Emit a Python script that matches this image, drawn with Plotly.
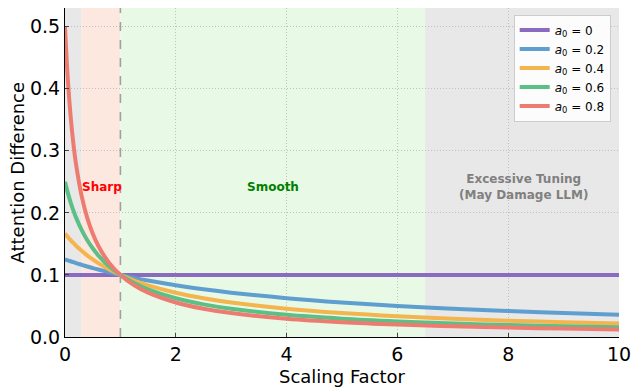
import plotly.graph_objects as go

scaling = [0, 0.05, 0.1, 0.15, 0.2, 0.3, 0.4, 0.5, 0.6, 0.8, 1.0, 1.25, 1.5, 2, 2.5, 3, 4, 5, 6, 7, 8, 9, 10]

diff_a00 = [0.1] * len(scaling)
diff_a02 = [0.125, 0.1235, 0.122, 0.1205, 0.119, 0.1163, 0.1136, 0.1111, 0.1087, 0.1042, 0.1, 0.0952, 0.0909, 0.0833, 0.0769, 0.0714, 0.0625, 0.0556, 0.05, 0.0455, 0.0417, 0.0385, 0.0357]
diff_a04 = [0.1667, 0.1613, 0.1562, 0.1515, 0.1471, 0.1389, 0.1316, 0.125, 0.119, 0.1087, 0.1, 0.0909, 0.0833, 0.0714, 0.0625, 0.0556, 0.0455, 0.0385, 0.0333, 0.0294, 0.0263, 0.0238, 0.0217]
diff_a06 = [0.25, 0.2326, 0.2174, 0.2041, 0.1923, 0.1724, 0.1562, 0.1429, 0.1316, 0.1136, 0.1, 0.087, 0.0769, 0.0625, 0.0526, 0.0455, 0.0357, 0.0294, 0.025, 0.0217, 0.0192, 0.0172, 0.0156]
diff_a08 = [0.5, 0.4167, 0.3571, 0.3125, 0.2778, 0.2273, 0.1923, 0.1667, 0.1471, 0.119, 0.1, 0.0833, 0.0714, 0.0556, 0.0455, 0.0385, 0.0294, 0.0238, 0.02, 0.0172, 0.0152, 0.0135, 0.0122]

series_labels = ["0", "0.2", "0.4", "0.6", "0.8"]
series_values = [diff_a00, diff_a02, diff_a04, diff_a06, diff_a08]
series_colors = ["#8a6bbf", "#5e9fcf", "#f5b54e", "#5cbf86", "#ee7b70"]

regions = [(0, 0.3, "#e8e8e8"), (0.3, 1.0, "#fde8e0"), (1.0, 6.5, "#e8fae6"), (6.5, 10, "#e8e8e8")]
x_ticks = [0, 2, 4, 6, 8, 10]
y_ticks = [0.0, 0.1, 0.2, 0.3, 0.4, 0.5]

FONT = "DejaVu Sans"
fig = go.Figure()

for lab, vals, col in zip(series_labels, series_values, series_colors):
    fig.add_trace(go.Scatter(
        x=scaling, y=vals, mode="lines", line=dict(color=col, width=4, shape="spline"),
        name=f"<i>a</i><sub>0</sub> = {lab}"))

for x0, x1, c in regions:
    fig.add_shape(type="rect", xref="x", yref="paper", x0=x0, x1=x1, y0=0, y1=1,
                  fillcolor=c, line_width=0, layer="below")

fig.add_shape(type="line", xref="x", yref="paper", x0=1, x1=1, y0=0, y1=1,
              line=dict(color="#a0a0a0", width=1.6, dash="dash"), layer="above")

fig.add_annotation(x=0.66, y=0.242, text="<b>Sharp</b>", showarrow=False,
                   font=dict(family=FONT, size=12, color="#ff0000"))
fig.add_annotation(x=3.75, y=0.242, text="<b>Smooth</b>", showarrow=False,
                   font=dict(family=FONT, size=12, color="#008000"))
fig.add_annotation(x=8.27, y=0.242, text="<b>Excessive Tuning<br>(May Damage LLM)</b>", showarrow=False,
                   font=dict(family=FONT, size=12, color="#808080"))

# axis titles
fig.add_annotation(xref="paper", yref="paper", x=0.5, y=0, yshift=-39, xanchor="center", yanchor="middle",
                   text="Scaling Factor", showarrow=False, font=dict(family=FONT, size=18, color="black"))
fig.add_annotation(xref="paper", yref="paper", x=0, y=0.5, xshift=-48, xanchor="center", yanchor="middle",
                   text="Attention Difference", textangle=-90, showarrow=False,
                   font=dict(family=FONT, size=18, color="black"))

fig.update_layout(
    width=631, height=383,
    margin=dict(l=57, r=20, t=0, b=54),
    paper_bgcolor="white", plot_bgcolor="white",
    font=dict(family=FONT, color="black"),
    legend=dict(x=0.985, y=0.98, xanchor="right", yanchor="top",
                bgcolor="rgba(255,255,255,0.85)", bordercolor="#cccccc", borderwidth=1,
                font=dict(family=FONT, size=12), itemwidth=30, tracegroupgap=0),
    xaxis=dict(range=[0, 10], tickvals=x_ticks, ticks="inside", ticklen=4,
               showline=True, linecolor="black", linewidth=1, automargin=False,
               showgrid=True, gridcolor="#c0c0c0", griddash="1px,2px", gridwidth=1,
               zeroline=False, tickfont=dict(size=19)),
    yaxis=dict(range=[0, 0.53], tickvals=y_ticks, tickformat=".1f", ticks="inside", ticklen=4,
               showline=True, linecolor="black", linewidth=1, automargin=False,
               showgrid=True, gridcolor="#c0c0c0", griddash="1px,2px", gridwidth=1,
               zeroline=False, tickfont=dict(size=19)),
)

fig.write_html("out.html")
